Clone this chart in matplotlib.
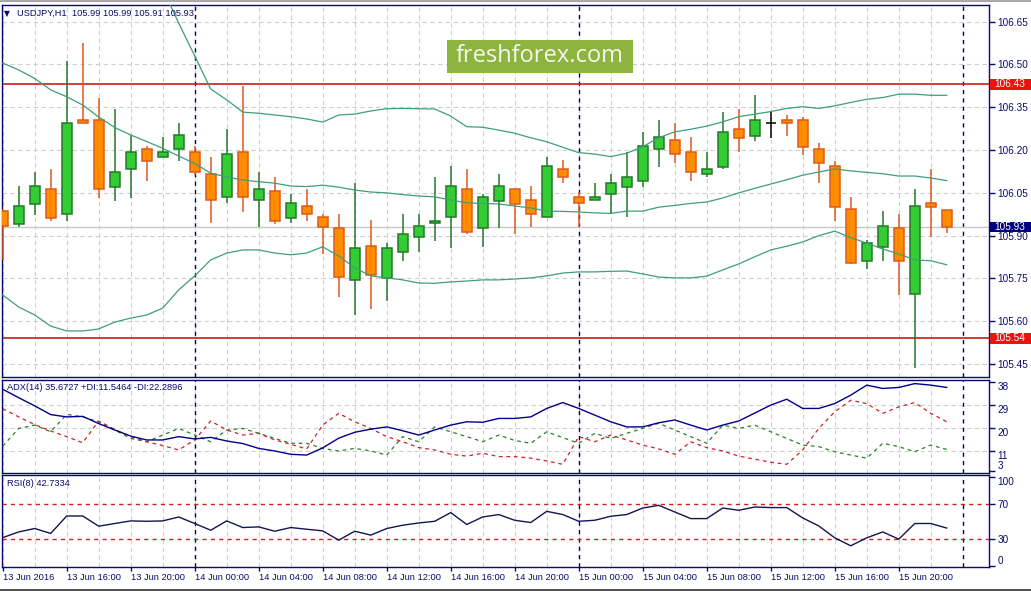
import numpy as np
import matplotlib
matplotlib.use('Agg')
import matplotlib.pyplot as plt
from matplotlib.patches import Rectangle
from matplotlib.lines import Line2D

plt.rcParams['font.family'] = ['Liberation Sans', 'DejaVu Sans']

# ---------------- data ----------------
time_labels = ["13 Jun 2016", "13 Jun 16:00", "13 Jun 20:00", "14 Jun 00:00", "14 Jun 04:00",
               "14 Jun 08:00", "14 Jun 12:00", "14 Jun 16:00", "14 Jun 20:00", "15 Jun 00:00",
               "15 Jun 04:00", "15 Jun 08:00", "15 Jun 12:00", "15 Jun 16:00", "15 Jun 20:00"]

opens = [105.986, 105.942, 106.012, 106.063, 105.975, 106.305, 106.305, 106.072, 106.133, 106.203,
         106.175, 106.203, 106.192, 106.115, 106.035, 106.192, 106.024, 106.056, 105.963, 106.003,
         105.964, 105.926, 105.744, 105.863, 105.753, 105.844, 105.894, 105.943, 105.964, 106.063,
         105.926, 106.023, 106.063, 106.024, 105.964, 106.133, 106.035, 106.024, 106.045, 106.072,
         106.093, 106.203, 106.235, 106.192, 106.115, 106.142, 106.273, 106.250, 106.294, 106.305,
         106.305, 106.203, 106.144, 105.992, 105.812, 105.861, 105.926, 105.695, 106.016, 105.990]
highs = [105.995, 106.075, 106.123, 106.134, 106.512, 106.576, 106.381, 106.344, 106.254, 106.214,
         106.246, 106.294, 106.214, 106.175, 106.274, 106.425, 106.122, 106.105, 106.046, 106.063,
         105.975, 105.975, 106.084, 105.955, 105.873, 105.976, 105.976, 106.107, 106.145, 106.133,
         106.046, 106.116, 106.063, 106.074, 106.177, 106.165, 106.054, 106.086, 106.116, 106.192,
         106.264, 106.305, 106.294, 106.246, 106.192, 106.332, 106.344, 106.392, 106.332, 106.322,
         106.315, 106.224, 106.163, 106.035, 105.885, 105.988, 105.976, 106.063, 106.134, 105.990]
lows = [105.815, 105.931, 105.972, 105.952, 105.952, 106.294, 106.033, 106.023, 106.033, 106.093,
        106.175, 106.163, 106.113, 105.943, 106.013, 105.984, 105.931, 105.941, 105.943, 105.952,
        105.836, 105.684, 105.622, 105.644, 105.672, 105.811, 105.844, 105.882, 105.856, 105.905,
        105.861, 105.926, 105.905, 105.931, 105.964, 106.084, 105.931, 106.024, 105.975, 105.964,
        106.072, 106.142, 106.154, 106.093, 106.105, 106.133, 106.192, 106.233, 106.243, 106.250,
        106.183, 106.084, 105.952, 105.800, 105.783, 105.812, 105.692, 105.435, 105.894, 105.910]
closes = [105.934, 106.003, 106.074, 105.963, 106.294, 106.294, 106.063, 106.122, 106.192, 106.163,
          106.192, 106.253, 106.122, 106.024, 106.185, 106.035, 106.063, 105.952, 106.013, 105.975,
          105.931, 105.754, 105.856, 105.763, 105.856, 105.906, 105.933, 105.952, 106.074, 105.914,
          106.035, 106.074, 106.012, 105.975, 106.144, 106.105, 106.013, 106.035, 106.084, 106.105,
          106.214, 106.246, 106.185, 106.122, 106.133, 106.262, 106.243, 106.305, 106.294, 106.294,
          106.212, 106.154, 106.002, 105.803, 105.873, 105.934, 105.812, 106.004, 106.002, 105.930]

bb_upper = [107.318, 107.312, 107.280, 107.239, 107.208, 107.150, 107.059, 106.961, 106.895, 106.838,
            106.766, 106.645, 106.530, 106.414, 106.376, 106.333, 106.329, 106.323, 106.317, 106.309,
            106.298, 106.323, 106.326, 106.337, 106.345, 106.346, 106.345, 106.344, 106.319, 106.282,
            106.280, 106.270, 106.259, 106.243, 106.229, 106.210, 106.191, 106.186, 106.177, 106.189,
            106.212, 106.243, 106.264, 106.273, 106.284, 106.299, 106.317, 106.326, 106.335, 106.346,
            106.352, 106.346, 106.355, 106.367, 106.378, 106.384, 106.396, 106.396, 106.392, 106.392]
bb_mid = [106.505, 106.481, 106.451, 106.411, 106.387, 106.358, 106.316, 106.279, 106.253, 106.230,
          106.206, 106.179, 106.153, 106.119, 106.106, 106.095, 106.089, 106.084, 106.074, 106.072,
          106.077, 106.070, 106.060, 106.053, 106.050, 106.044, 106.039, 106.036, 106.025, 106.015,
          106.013, 106.011, 106.004, 105.997, 105.986, 105.985, 105.983, 105.980, 105.978, 105.986,
          105.986, 106.000, 106.006, 106.013, 106.018, 106.032, 106.050, 106.066, 106.081, 106.096,
          106.112, 106.123, 106.134, 106.127, 106.122, 106.117, 106.109, 106.109, 106.102, 106.093]
bb_lower = [105.692, 105.650, 105.622, 105.583, 105.566, 105.566, 105.573, 105.597, 105.611, 105.622,
            105.646, 105.710, 105.759, 105.815, 105.839, 105.850, 105.850, 105.839, 105.833, 105.839,
            105.861, 105.829, 105.787, 105.759, 105.752, 105.745, 105.734, 105.733, 105.738, 105.741,
            105.745, 105.745, 105.748, 105.752, 105.759, 105.769, 105.773, 105.773, 105.775, 105.776,
            105.766, 105.755, 105.752, 105.752, 105.758, 105.780, 105.801, 105.826, 105.850, 105.863,
            105.878, 105.900, 105.916, 105.893, 105.874, 105.853, 105.836, 105.815, 105.812, 105.798]

adx = [35.0, 31.7, 28.5, 25.1, 24.2, 24.4, 21.6, 19.1, 16.7, 15.2,
       15.2, 16.5, 15.6, 16.2, 14.8, 13.8, 11.9, 10.9, 9.6, 9.3,
       12.1, 15.9, 18.2, 19.4, 20.3, 18.8, 17.1, 19.1, 21.0, 22.3,
       22.1, 23.6, 23.6, 24.2, 27.5, 29.8, 27.5, 24.9, 22.3, 20.3,
       20.3, 21.9, 23.0, 21.0, 19.1, 21.0, 22.6, 25.7, 28.8, 31.1,
       27.5, 27.5, 29.4, 32.7, 36.6, 35.3, 35.7, 37.2, 36.6, 35.7]
plus_di = [12.8, 19.7, 21.0, 18.4, 25.2, 24.2, 22.3, 19.1, 15.8, 14.5,
           17.1, 19.7, 17.1, 14.5, 19.1, 19.7, 17.8, 15.8, 13.9, 13.9,
           11.9, 10.9, 11.9, 10.9, 9.3, 16.5, 14.5, 20.3, 18.4, 16.5,
           14.5, 17.1, 15.0, 13.9, 18.4, 16.1, 13.9, 17.8, 15.8, 17.8,
           19.7, 21.7, 19.1, 16.5, 13.9, 21.0, 19.7, 21.0, 18.4, 15.8,
           13.2, 12.6, 10.6, 9.3, 8.1, 13.9, 12.6, 10.6, 13.2, 11.5]
minus_di = [27.4, 24.2, 21.2, 18.7, 16.5, 14.1, 22.6, 19.3, 16.5, 14.5,
            13.0, 11.3, 15.2, 22.6, 19.1, 17.1, 17.8, 15.2, 13.5, 11.7,
            21.0, 25.6, 22.3, 19.7, 16.5, 14.5, 12.2, 11.3, 9.6, 8.9,
            10.0, 8.7, 8.7, 8.1, 7.0, 5.7, 16.5, 14.5, 17.1, 15.2,
            13.2, 11.7, 9.6, 14.5, 12.2, 10.9, 8.9, 7.7, 6.5, 5.7,
            11.3, 19.7, 26.2, 30.7, 29.4, 25.6, 28.1, 29.8, 25.6, 22.3]
rsi = [32.0, 38.4, 42.2, 36.7, 56.2, 56.2, 44.8, 47.8, 50.7, 50.3,
       50.7, 55.1, 47.8, 40.3, 50.7, 43.3, 44.0, 39.2, 43.3, 41.4,
       39.6, 29.2, 39.2, 34.8, 42.2, 45.9, 48.4, 50.3, 60.0, 46.7,
       55.1, 57.8, 51.4, 48.9, 61.4, 57.8, 50.3, 51.4, 55.9, 57.8,
       65.1, 68.1, 60.7, 53.3, 53.3, 65.1, 62.6, 66.2, 65.6, 65.6,
       54.0, 45.1, 31.8, 22.9, 31.8, 38.4, 30.3, 47.8, 47.8, 42.7]

price_ticks = [106.65, 106.50, 106.35, 106.20, 106.05, 105.90, 105.75, 105.60, 105.45]
adx_ticks = [38, 29, 20, 11, 3]
rsi_ticks = [100, 70, 30, 0]
level_high = 106.43
level_low = 105.54
last_price = 105.93
day_starts = [12, 36, 60]

header_main = "USDJPY,H1  105.99 105.99 105.91 105.93"
header_adx = "ADX(14) 35.6727 +DI:11.5464 -DI:22.2896"
header_rsi = "RSI(8) 42.7334"

# ---------------- style ----------------
NAVY = '#0A0A6E'
GRID = '#CFCFCF'
G_BODY, G_EDGE = '#33CC33', '#23782A'
O_BODY, O_EDGE = '#FF8C00', '#DE5A1C'
BAND = '#3E9F78'
RED = '#C81E1E'

W, H = 1031, 591
fig = plt.figure(figsize=(W / 100, H / 100), dpi=100)
fig.patch.set_facecolor('white')


def fx(px):
    return px / W


def fy(py):
    return 1 - py / H


L, R = 2, 989
ax1 = fig.add_axes([fx(L), fy(377), (R - L) / W, (377 - 5) / H])
ax2 = fig.add_axes([fx(L), fy(473), (R - L) / W, (473 - 379.5) / H])
ax3 = fig.add_axes([fx(L), fy(567), (R - L) / W, (567 - 475) / H])

n = len(opens)
x = np.arange(n)
xl = (-0.044, 61.64)

for ax in (ax1, ax2, ax3):
    ax.set_xlim(*xl)
    for s in ax.spines.values():
        s.set_color(NAVY)
        s.set_linewidth(1.0)
    ax.set_xticks(np.arange(0, 60, 4))
    ax.set_xticks(np.arange(2, 60, 4), minor=True)
    ax.grid(axis='x', which='both', color=GRID, linestyle=(0, (4, 3)), linewidth=0.8)
    ax.set_axisbelow(True)
    ax.yaxis.tick_right()
    ax.tick_params(axis='y', which='both', direction='out', length=4, width=1,
                   color=NAVY, labelcolor=NAVY, labelsize=7.2, pad=2)
    for d in day_starts:
        ax.axvline(d, color='#000060', linestyle=(0, (3, 3)), linewidth=1, zorder=1.5)

for ax in (ax1, ax2):
    ax.tick_params(axis='x', which='both', length=0, labelbottom=False)
ax3.tick_params(axis='x', which='major', direction='out', length=3, width=1,
                color=NAVY, labelcolor=NAVY, labelsize=6.7, pad=1.5)
ax3.tick_params(axis='x', which='minor', length=0)
ax3.set_xticklabels(time_labels)
for lbl in ax3.get_xticklabels():
    lbl.set_ha('left')

# ---------------- main price panel ----------------
ax1.set_ylim(105.4046, 106.7085)
ax1.set_yticks(price_ticks)
ax1.set_yticklabels([f"{v:.2f}" for v in price_ticks])
ax1.grid(axis='y', color=GRID, linestyle=(0, (4, 3)), linewidth=0.8)

ax1.axhline(last_price, color='#C8C8C8', linewidth=1, zorder=1.6)
ax1.axhline(level_high, color=RED, linewidth=1.2, zorder=2)
ax1.axhline(level_low, color=RED, linewidth=1.2, zorder=2)

for i in x:
    o, h, l, c = opens[i], highs[i], lows[i], closes[i]
    if c > o:
        body, edge = G_BODY, G_EDGE
    elif c < o:
        body, edge = O_BODY, O_EDGE
    else:
        body, edge = None, 'black'
    ax1.vlines(i, l, h, color=edge, linewidth=1.1, zorder=3)
    if body is not None:
        ax1.bar(i, abs(c - o), bottom=min(o, c), width=0.62, color=body,
                edgecolor=edge, linewidth=1.1, zorder=4)
    else:
        ax1.hlines(o, i - 0.31, i + 0.31, color='black', linewidth=1.1, zorder=4)

for band in (bb_upper, bb_mid, bb_lower):
    ax1.plot(x, band, color=BAND, linewidth=0.9, zorder=5)

# price boxes on the right scale
tr = ax1.get_yaxis_transform()
box_h = 10.5 / 285.3
for val, col in ((level_high, '#EE1111'), (level_low, '#EE1111'), (last_price, '#000080')):
    ax1.add_patch(Rectangle((1.001, val - box_h / 2), 0.0415, box_h, transform=tr,
                            facecolor=col, edgecolor='none', clip_on=False, zorder=10))
    ax1.text(1.0055, val, f"{val:.2f}", transform=tr, color='white', fontsize=7.2,
             ha='left', va='center', clip_on=False, zorder=11)

# ---------------- ADX panel ----------------
ax2.set_ylim(2.3, 38.8)
ax2.plot(x, adx, color='#00008B', linewidth=1.0, zorder=4)
ax2.plot(x, plus_di, color='#2C7F2C', linewidth=0.9, linestyle=(0, (3, 3)), zorder=3)
ax2.plot(x, minus_di, color='#CC2222', linewidth=0.9, linestyle=(0, (3, 3)), zorder=3)
for v in adx_ticks[1:4]:
    ax2.axhline(v, color=GRID, linestyle=(0, (4, 3)), linewidth=0.8, zorder=1)
ax2.set_yticks(adx_ticks)
ax2.set_yticklabels([str(v) for v in adx_ticks])
for lbl in ax2.get_yticklabels():
    lbl.set_va('top')
ax2.get_yticklabels()[-1].set_va('bottom')

# ---------------- RSI panel ----------------
ax3.set_ylim(-0.8, 102)
ax3.plot(x, rsi, color='#141450', linewidth=1.0, zorder=4)
ax3.axhline(70, color='#CC2222', linestyle=(0, (3, 3)), linewidth=1, zorder=2)
ax3.axhline(30, color='#CC2222', linestyle=(0, (3, 3)), linewidth=1, zorder=2)
ax3.set_yticks(rsi_ticks)
ax3.set_yticklabels([str(v) for v in rsi_ticks])
labs = ax3.get_yticklabels()
labs[0].set_va('top')
labs[-1].set_va('bottom')

# ---------------- headers / watermark ----------------
fig.text(fx(4), fy(13.7), "\u25BC", fontsize=5.5, color=NAVY, va='center', ha='left',
         family=['DejaVu Sans'], zorder=20)
fig.text(fx(17), fy(13.7), header_main, fontsize=6.7, color=NAVY, va='center', ha='left', zorder=20)
fig.text(fx(7), fy(387.5), header_adx, fontsize=6.7, color=NAVY, va='center', ha='left', zorder=20)
fig.text(fx(7), fy(483.5), header_rsi, fontsize=6.7, color=NAVY, va='center', ha='left', zorder=20)

fig.patches.append(Rectangle((fx(446.7), fy(73.3)), (632.7 - 446.7) / W, (73.3 - 40) / H,
                             transform=fig.transFigure, facecolor='#8CB43E', edgecolor='none', zorder=5))
fig.text(fx(539.7), fy(56.0), "freshforex.com", fontsize=17, color='#F5F8EE',
         family=['Open Sans', 'DejaVu Sans'], ha='center', va='center', zorder=21)

fig.add_artist(Line2D([0, 1], [fy(0.8), fy(0.8)], transform=fig.transFigure, color='#A8A8A8', linewidth=1.5))
fig.add_artist(Line2D([0, 1], [fy(589.5), fy(589.5)], transform=fig.transFigure, color='#303030', linewidth=1.2))

fig.savefig('out.png', dpi=100, facecolor='white')
